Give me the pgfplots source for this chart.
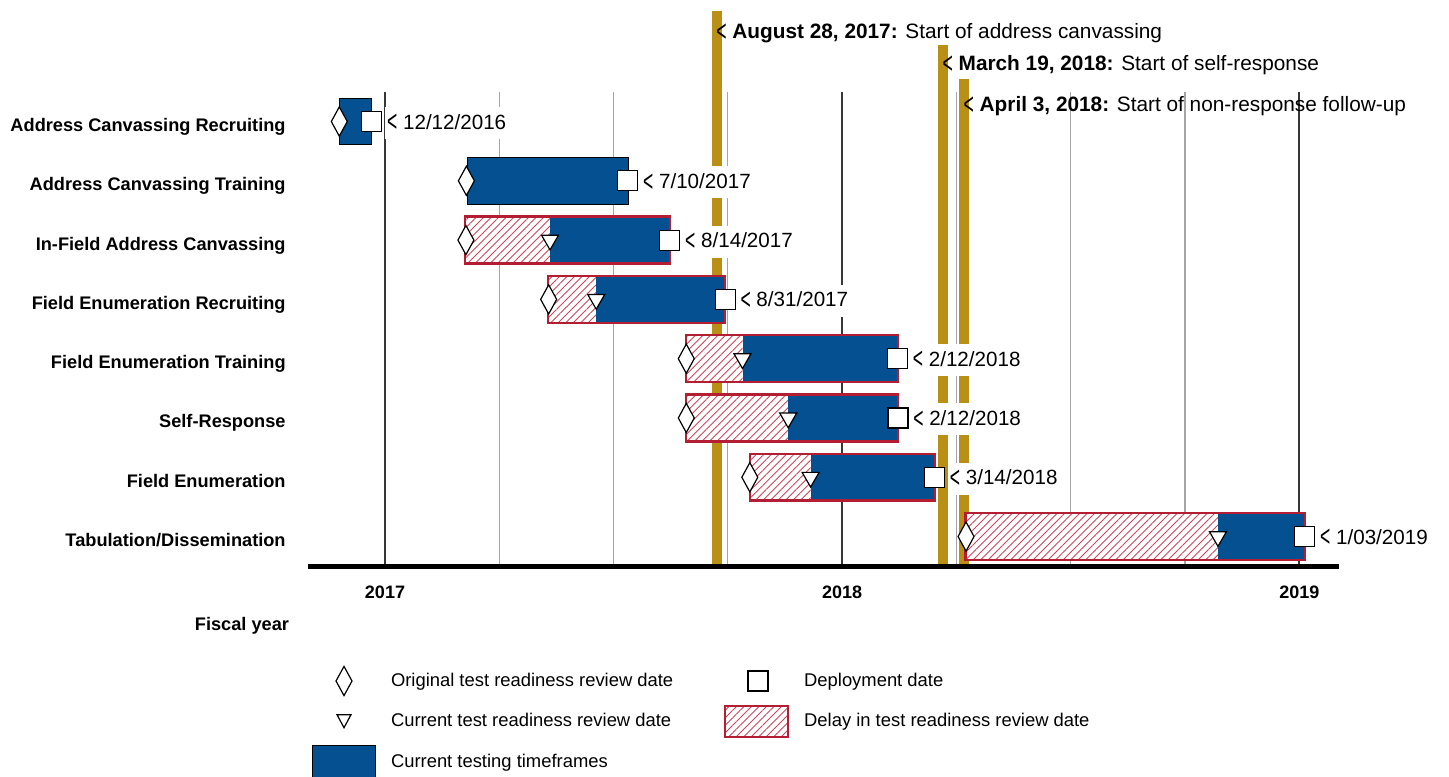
\documentclass[border=0pt]{standalone}
\usepackage{fontspec}
\setmainfont{Liberation Sans}
\usepackage{pgfplots}
\pgfplotsset{compat=1.18}
\usepackage{pgfplotstable}
\usetikzlibrary{patterns.meta}

\definecolor{gaoblue}{RGB}{5,80,145}
\definecolor{crimson}{RGB}{180,30,50}
\definecolor{hatchred}{RGB}{205,70,90}
\definecolor{goldbar}{RGB}{186,143,21}
\definecolor{griddark}{RGB}{55,55,55}
\definecolor{gridlight}{RGB}{165,165,165}

\tikzset{hatchfill/.style={pattern={Lines[angle=45,distance=2.65pt,line width=0.45pt]},pattern color=hatchred}}
\newcommand{\chev}{\raisebox{-1.4pt}{\scalebox{0.85}[1.45]{<}}}

% y: row (8 = top ... 1 = bottom); x in fiscal years
% orig = original TRR date (diamond), cur = current TRR date (triangle), dep = deployment date (square)
\pgfplotstableread{
y orig     cur      dep
8 2016.900 2016.900 2016.971
7 2017.178 2017.178 2017.531
6 2017.177 2017.361 2017.623
5 2017.358 2017.462 2017.744
4 2017.659 2017.782 2018.121
3 2017.659 2017.882 2018.122
2 2017.798 2017.931 2018.202
1 2018.271 2018.822 2019.012
}\gantt

\newcommand{\blueonly}[4]{%
  \addplot[forget plot, fill=gaoblue, draw=black, line width=0.5pt] coordinates {(#3,#1) (#4,#1) (#4,#2) (#3,#2)} -- cycle;}
\newcommand{\delaybar}[5]{%
  \addplot[forget plot, draw=none, fill=white, postaction={hatchfill}] coordinates {(#3,#1) (#4,#1) (#4,#2) (#3,#2)} -- cycle;
  \addplot[forget plot, draw=none, fill=gaoblue] coordinates {(#4,#1) (#5,#1) (#5,#2) (#4,#2)} -- cycle;
  \addplot[forget plot, draw=crimson, line width=1.2pt] coordinates {(#3,#1) (#5,#1) (#5,#2) (#3,#2)} -- cycle;}
\newcommand{\datelabel}[3]{%
  \node[anchor=base west, fill=white, inner xsep=1pt, inner ysep=0pt, text height=11pt, text depth=5pt,
        font=\fontsize{10.3}{12}\selectfont, xshift=6.5pt, yshift=-3.75pt] at (axis cs:#1,#2) {\chev{} #3\hspace{3pt}};}

\begin{document}
\begin{tikzpicture}
\begin{axis}[
  at={(0pt,0pt)}, anchor=south west,
  width=515.35pt, height=281.63pt, scale only axis,
  xmin=2016.8322, xmax=2019.0868,
  ymin=0.5, ymax=10,
  clip=false,
  axis on top,
  axis x line*=bottom,
  axis y line*=left,
  x axis line style={line width=2.5pt, -},
  y axis line style={draw=none},
  xtick={2017,2018,2019},
  xticklabels={\textbf{2017},\textbf{2018},\textbf{2019}},
  scaled x ticks=false,
  major tick length=0pt,
  xticklabel style={anchor=base, yshift=-15.9pt, inner sep=0pt, font=\bfseries\fontsize{9}{10.8}\selectfont},
  ytick={1,2,3,4,5,6,7,8},
  yticklabels={Tabulation/Dissemination, Field Enumeration, Self-Response, Field Enumeration Training, Field Enumeration Recruiting, In-Field Address Canvassing, Address Canvassing Training, Address Canvassing Recruiting},
  yticklabel style={anchor=base east, xshift=-11.15pt, yshift=-5pt, inner sep=0pt, font=\bfseries\fontsize{9.1}{11}\selectfont},
  xlabel={Fiscal year},
  xlabel style={at={(rel axis cs:0,0)}, anchor=base, xshift=-33.15pt, yshift=-31.9pt, inner sep=0pt, font=\bfseries\fontsize{9.1}{11}\selectfont},
  legend columns=2,
  legend cell align=left,
  legend style={at={(rel axis cs:0.0036,-0.1754)}, anchor=north west, draw=none, fill=none,
     inner sep=0pt, outer sep=0pt, row sep=3.75pt,
     font=\fontsize{9.2}{11}\selectfont,
     nodes={inner sep=0pt, text height=7.4pt, text depth=1.9pt},
     /tikz/every odd column/.append style={column sep=7.5pt},
     /tikz/every even column/.append style={column sep=25.25pt}},
]
% legend
\addlegendimage{legend image code/.code={\path[draw=none,fill=none] (-16pt,-8pt) rectangle (16pt,8pt); \draw[black,line width=0.6pt,fill=white] (0pt,7.3pt)--(4pt,0pt)--(0pt,-7.3pt)--(-4pt,0pt)--cycle;}}
\addlegendentry{Original test readiness review date}
\addlegendimage{legend image code/.code={\path[draw=none,fill=none] (-16pt,-8pt) rectangle (16pt,8pt); \draw[black,line width=0.6pt,fill=white] (-4.25pt,-5pt) rectangle (5.75pt,5pt);}}
\addlegendentry{Deployment date}
\addlegendimage{legend image code/.code={\path[draw=none,fill=none] (-16pt,-8pt) rectangle (16pt,8pt); \draw[black,line width=0.6pt,fill=white] (-3.5pt,3.25pt)--(3.5pt,3.25pt)--(0pt,-3.25pt)--cycle;}}
\addlegendentry{Current test readiness review date}
\addlegendimage{legend image code/.code={\path[draw=none,fill=none] (-16pt,-8pt) rectangle (16pt,8pt); \draw[crimson,line width=1.2pt,fill=white,postaction={hatchfill}] (-15.75pt,-7.75pt) rectangle (15.75pt,7.75pt);}}
\addlegendentry{Delay in test readiness review date}
\addlegendimage{legend image code/.code={\path[draw=none,fill=none] (-16pt,-8pt) rectangle (16pt,8pt); \draw[black,line width=0.4pt,fill=gaoblue] (-15.8pt,-7.9pt) rectangle (15.8pt,7.9pt);}}
\addlegendentry{Current testing timeframes}

% grid lines
\pgfplotsinvokeforeach{2017.25,2017.5,2017.75,2018.25,2018.5,2018.75}{%
  \draw[gridlight, line width=0.6pt] (axis cs:#1,0.5) -- (axis cs:#1,8.5);}
\pgfplotsinvokeforeach{2017,2018,2019}{%
  \draw[griddark, line width=1.1pt] (axis cs:#1,0.5) -- (axis cs:#1,8.5);}

% key dates
\addplot[forget plot, goldbar, line width=5pt] coordinates {(2017.726,0.5) (2017.726,9.869)};
\addplot[forget plot, goldbar, line width=5pt] coordinates {(2018.221,0.5) (2018.221,9.291)};
\addplot[forget plot, goldbar, line width=5pt] coordinates {(2018.267,0.5) (2018.267,8.717)};

% bars
\blueonly{7.605}{8.395}{2016.900}{2016.971}
\blueonly{6.605}{7.395}{2017.180}{2017.532}
\delaybar{5.605}{6.395}{2017.175}{2017.361}{2017.623}
\delaybar{4.605}{5.395}{2017.357}{2017.462}{2017.744}
\delaybar{3.605}{4.395}{2017.658}{2017.782}{2018.122}
\delaybar{2.605}{3.395}{2017.658}{2017.882}{2018.122}
\delaybar{1.605}{2.395}{2017.798}{2017.931}{2018.203}
\delaybar{0.605}{1.395}{2018.270}{2018.822}{2019.012}

% markers
\addplot[forget plot, only marks, mark=diamond*, mark size=7.3pt,
  mark options={fill=white, draw=black, line width=0.6pt, xscale=0.73}] table[x=orig, y=y] {\gantt};
\addplot[forget plot, only marks, mark=triangle*, mark size=4.9pt,
  mark options={fill=white, draw=black, line width=0.6pt, rotate=180},
  skip coords between index={0}{2}] table[x=cur, y=y] {\gantt};
\addplot[forget plot, only marks, mark=square*, mark size=5pt,
  mark options={fill=white, draw=black, line width=0.6pt}] table[x=dep, y=y] {\gantt};

% date labels
\datelabel{2016.971}{8}{12/12/2016}
\datelabel{2017.531}{7}{7/10/2017}
\datelabel{2017.623}{6}{8/14/2017}
\datelabel{2017.744}{5}{8/31/2017}
\datelabel{2018.121}{4}{2/12/2018}
\datelabel{2018.122}{3}{2/12/2018}
\datelabel{2018.202}{2}{3/14/2018}
\datelabel{2019.012}{1}{1/03/2019}

% key date annotations
\node[anchor=base west, inner sep=0pt, xshift=-0.5pt, font=\fontsize{10.4}{12}\selectfont] at (axis cs:2017.726,9.405) {\chev{} \textbf{August 28, 2017:} Start of address canvassing};
\node[anchor=base west, inner sep=0pt, xshift=-0.5pt, font=\fontsize{10.4}{12}\selectfont] at (axis cs:2018.221,8.856) {\chev{} \textbf{March 19, 2018:} Start of self-response};
\node[anchor=base west, inner sep=0pt, xshift=-0.5pt, font=\fontsize{10.4}{12}\selectfont] at (axis cs:2018.267,8.169) {\chev{} \textbf{April 3, 2018:} Start of non-response follow-up};
\end{axis}
\pgfresetboundingbox
\path (-154.15pt,-104.9pt) rectangle (570.35pt,283.1pt);
\end{tikzpicture}
\end{document}
